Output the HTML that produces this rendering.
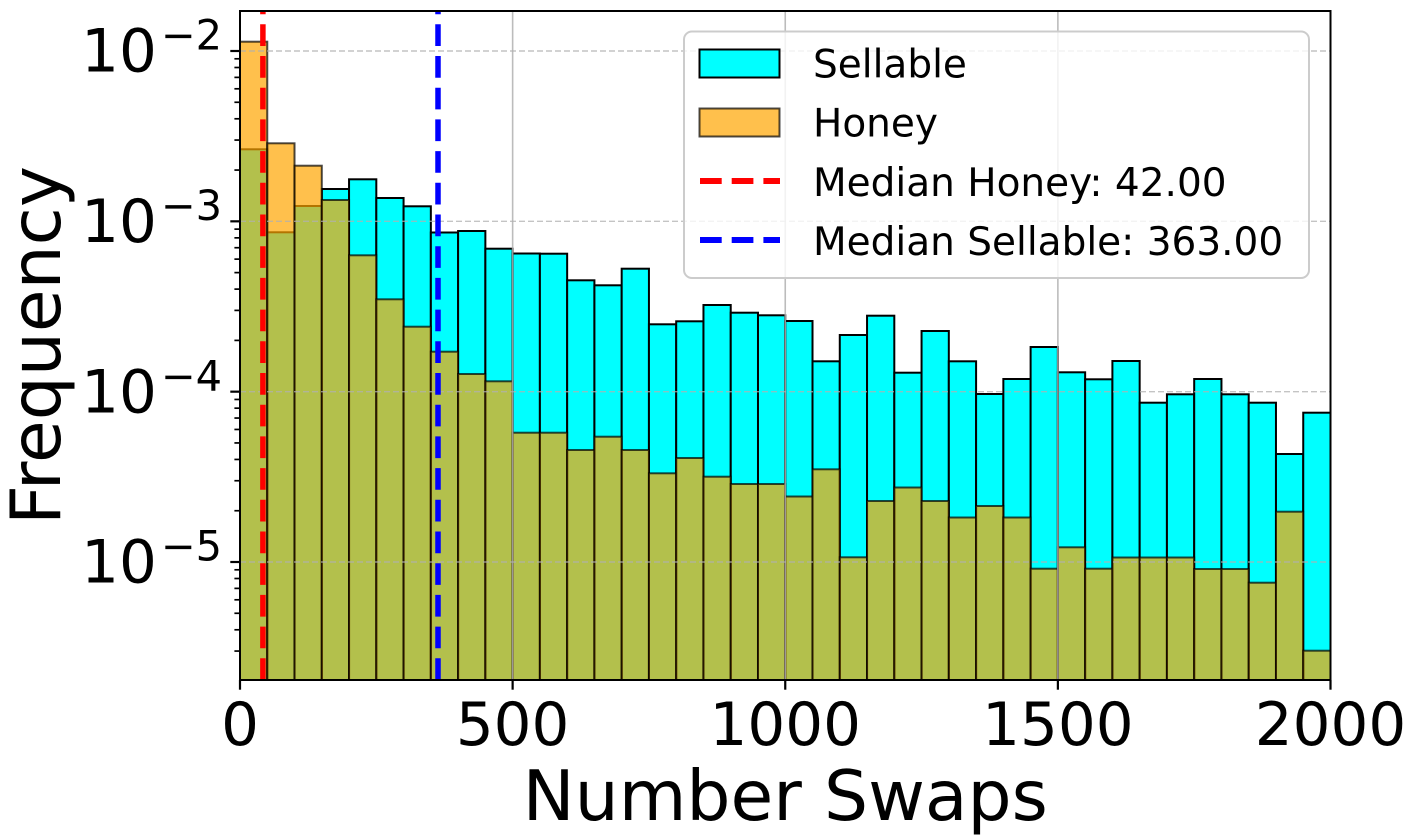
<!DOCTYPE html>
<html>
<head>
<meta charset="utf-8">
<style>
html,body{margin:0;padding:0;background:#fff;}
svg{display:block;}
text{font-family:"DejaVu Sans","Liberation Sans",sans-serif;fill:#000;}
</style>
</head>
<body>
<svg width="1412" height="838" viewBox="0 0 1412 838" xmlns="http://www.w3.org/2000/svg">
<defs>
<clipPath id="plot"><rect x="240" y="11" width="1090.5" height="669"/></clipPath>
</defs>
<rect x="0" y="0" width="1412" height="838" fill="#fff"/>
<g clip-path="url(#plot)">
<g fill="#00ffff" stroke="#000" stroke-width="2">
<rect x="240.00" y="149.3" width="27.26" height="540.7"/>
<rect x="267.26" y="232.3" width="27.26" height="457.7"/>
<rect x="294.53" y="206" width="27.26" height="484"/>
<rect x="321.79" y="189" width="27.26" height="501"/>
<rect x="349.05" y="179.3" width="27.26" height="510.7"/>
<rect x="376.31" y="198" width="27.26" height="492"/>
<rect x="403.58" y="206.3" width="27.26" height="483.7"/>
<rect x="430.84" y="232.5" width="27.26" height="457.5"/>
<rect x="458.10" y="231" width="27.26" height="459"/>
<rect x="485.36" y="248.7" width="27.26" height="441.3"/>
<rect x="512.63" y="253.5" width="27.26" height="436.5"/>
<rect x="539.89" y="253.7" width="27.26" height="436.3"/>
<rect x="567.15" y="280.3" width="27.26" height="409.7"/>
<rect x="594.41" y="285.3" width="27.26" height="404.7"/>
<rect x="621.68" y="268.7" width="27.26" height="421.3"/>
<rect x="648.94" y="324.3" width="27.26" height="365.7"/>
<rect x="676.20" y="321.3" width="27.26" height="368.7"/>
<rect x="703.46" y="305" width="27.26" height="385"/>
<rect x="730.73" y="312.7" width="27.26" height="377.3"/>
<rect x="757.99" y="315.3" width="27.26" height="374.7"/>
<rect x="785.25" y="321" width="27.26" height="369"/>
<rect x="812.51" y="361.3" width="27.26" height="328.7"/>
<rect x="839.78" y="335" width="27.26" height="355"/>
<rect x="867.04" y="315.7" width="27.26" height="374.3"/>
<rect x="894.30" y="372.7" width="27.26" height="317.3"/>
<rect x="921.56" y="331" width="27.26" height="359"/>
<rect x="948.83" y="361.3" width="27.26" height="328.7"/>
<rect x="976.09" y="394" width="27.26" height="296"/>
<rect x="1003.35" y="379" width="27.26" height="311"/>
<rect x="1030.61" y="347" width="27.26" height="343"/>
<rect x="1057.88" y="372.3" width="27.26" height="317.7"/>
<rect x="1085.14" y="379.3" width="27.26" height="310.7"/>
<rect x="1112.40" y="361" width="27.26" height="329"/>
<rect x="1139.66" y="402.7" width="27.26" height="287.3"/>
<rect x="1166.93" y="394.3" width="27.26" height="295.7"/>
<rect x="1194.19" y="379" width="27.26" height="311"/>
<rect x="1221.45" y="394.3" width="27.26" height="295.7"/>
<rect x="1248.71" y="402.7" width="27.26" height="287.3"/>
<rect x="1275.98" y="454" width="27.26" height="236"/>
<rect x="1303.24" y="412.7" width="27.26" height="277.3"/>
</g>
<g fill="#ffa500" fill-opacity="0.7" stroke="#000" stroke-opacity="0.7" stroke-width="2">
<rect x="240.00" y="41.7" width="27.26" height="648.3"/>
<rect x="267.26" y="143.3" width="27.26" height="546.7"/>
<rect x="294.53" y="165.7" width="27.26" height="524.3"/>
<rect x="321.79" y="200" width="27.26" height="490"/>
<rect x="349.05" y="255.3" width="27.26" height="434.7"/>
<rect x="376.31" y="299.3" width="27.26" height="390.7"/>
<rect x="403.58" y="326.7" width="27.26" height="363.3"/>
<rect x="430.84" y="351.7" width="27.26" height="338.3"/>
<rect x="458.10" y="374" width="27.26" height="316"/>
<rect x="485.36" y="381.3" width="27.26" height="308.7"/>
<rect x="512.63" y="432.7" width="27.26" height="257.3"/>
<rect x="539.89" y="432.7" width="27.26" height="257.3"/>
<rect x="567.15" y="450" width="27.26" height="240"/>
<rect x="594.41" y="436.7" width="27.26" height="253.3"/>
<rect x="621.68" y="450" width="27.26" height="240"/>
<rect x="648.94" y="473.3" width="27.26" height="216.7"/>
<rect x="676.20" y="458" width="27.26" height="232"/>
<rect x="703.46" y="476.7" width="27.26" height="213.3"/>
<rect x="730.73" y="484" width="27.26" height="206"/>
<rect x="757.99" y="484" width="27.26" height="206"/>
<rect x="785.25" y="496.5" width="27.26" height="193.5"/>
<rect x="812.51" y="469.3" width="27.26" height="220.7"/>
<rect x="839.78" y="557.3" width="27.26" height="132.7"/>
<rect x="867.04" y="501" width="27.26" height="189"/>
<rect x="894.30" y="487.5" width="27.26" height="202.5"/>
<rect x="921.56" y="501" width="27.26" height="189"/>
<rect x="948.83" y="517.5" width="27.26" height="172.5"/>
<rect x="976.09" y="506" width="27.26" height="184"/>
<rect x="1003.35" y="517.5" width="27.26" height="172.5"/>
<rect x="1030.61" y="568.7" width="27.26" height="121.3"/>
<rect x="1057.88" y="547.3" width="27.26" height="142.7"/>
<rect x="1085.14" y="568.7" width="27.26" height="121.3"/>
<rect x="1112.40" y="557.5" width="27.26" height="132.5"/>
<rect x="1139.66" y="557.5" width="27.26" height="132.5"/>
<rect x="1166.93" y="557.5" width="27.26" height="132.5"/>
<rect x="1194.19" y="569" width="27.26" height="121"/>
<rect x="1221.45" y="569" width="27.26" height="121"/>
<rect x="1248.71" y="582.7" width="27.26" height="107.3"/>
<rect x="1275.98" y="511.7" width="27.26" height="178.3"/>
<rect x="1303.24" y="650.7" width="27.26" height="39.3"/>
</g>
<g stroke="#b0b0b0" stroke-width="1.6" stroke-opacity="0.85">
<line x1="512.63" y1="11" x2="512.63" y2="680"/>
<line x1="785.25" y1="11" x2="785.25" y2="680"/>
<line x1="1057.88" y1="11" x2="1057.88" y2="680"/>
</g>
<g stroke="#b0b0b0" stroke-width="1.4" stroke-opacity="0.75" stroke-dasharray="6 3">
<line x1="240" y1="51" x2="1330.5" y2="51"/>
<line x1="240" y1="221.33" x2="1330.5" y2="221.33"/>
<line x1="240" y1="391.67" x2="1330.5" y2="391.67"/>
<line x1="240" y1="562" x2="1330.5" y2="562"/>
</g>
<line x1="262.9" y1="680" x2="262.9" y2="11" stroke="#ff0000" stroke-width="5.5" stroke-dasharray="21.7 10"/>
<line x1="438" y1="680" x2="438" y2="11" stroke="#0000ff" stroke-width="5.5" stroke-dasharray="21.7 10"/>
</g>
<rect x="240" y="11" width="1090.5" height="669" fill="none" stroke="#000" stroke-width="2"/>
<g stroke="#000" stroke-width="2.2">
<line x1="240" y1="680" x2="240" y2="689.7"/>
<line x1="512.63" y1="680" x2="512.63" y2="689.7"/>
<line x1="785.25" y1="680" x2="785.25" y2="689.7"/>
<line x1="1057.88" y1="680" x2="1057.88" y2="689.7"/>
<line x1="1330.5" y1="680" x2="1330.5" y2="689.7"/>
<line x1="240" y1="51" x2="230.3" y2="51"/>
<line x1="240" y1="221.33" x2="230.3" y2="221.33"/>
<line x1="240" y1="391.67" x2="230.3" y2="391.67"/>
<line x1="240" y1="562" x2="230.3" y2="562"/>
</g>
<g stroke="#000" stroke-width="1.7">
<line x1="240" y1="170.06" x2="234.4" y2="170.06"/>
<line x1="240" y1="140.06" x2="234.4" y2="140.06"/>
<line x1="240" y1="118.78" x2="234.4" y2="118.78"/>
<line x1="240" y1="102.27" x2="234.4" y2="102.27"/>
<line x1="240" y1="88.79" x2="234.4" y2="88.79"/>
<line x1="240" y1="77.38" x2="234.4" y2="77.38"/>
<line x1="240" y1="67.50" x2="234.4" y2="67.50"/>
<line x1="240" y1="58.79" x2="234.4" y2="58.79"/>
<line x1="240" y1="340.40" x2="234.4" y2="340.40"/>
<line x1="240" y1="310.40" x2="234.4" y2="310.40"/>
<line x1="240" y1="289.12" x2="234.4" y2="289.12"/>
<line x1="240" y1="272.61" x2="234.4" y2="272.61"/>
<line x1="240" y1="259.13" x2="234.4" y2="259.13"/>
<line x1="240" y1="247.72" x2="234.4" y2="247.72"/>
<line x1="240" y1="237.84" x2="234.4" y2="237.84"/>
<line x1="240" y1="229.13" x2="234.4" y2="229.13"/>
<line x1="240" y1="510.73" x2="234.4" y2="510.73"/>
<line x1="240" y1="480.73" x2="234.4" y2="480.73"/>
<line x1="240" y1="459.45" x2="234.4" y2="459.45"/>
<line x1="240" y1="442.94" x2="234.4" y2="442.94"/>
<line x1="240" y1="429.46" x2="234.4" y2="429.46"/>
<line x1="240" y1="418.05" x2="234.4" y2="418.05"/>
<line x1="240" y1="408.17" x2="234.4" y2="408.17"/>
<line x1="240" y1="399.46" x2="234.4" y2="399.46"/>
<line x1="240" y1="651.06" x2="234.4" y2="651.06"/>
<line x1="240" y1="629.78" x2="234.4" y2="629.78"/>
<line x1="240" y1="613.27" x2="234.4" y2="613.27"/>
<line x1="240" y1="599.79" x2="234.4" y2="599.79"/>
<line x1="240" y1="588.38" x2="234.4" y2="588.38"/>
<line x1="240" y1="578.50" x2="234.4" y2="578.50"/>
<line x1="240" y1="569.79" x2="234.4" y2="569.79"/>
</g>
<g font-size="59.5" text-anchor="middle">
<text x="240" y="745">0</text>
<text x="512.63" y="745">500</text>
<text x="785.25" y="745">1000</text>
<text x="1057.88" y="745">1500</text>
<text x="1330.5" y="745">2000</text>
</g>
<g font-size="59.5" text-anchor="end">
<text x="222" y="71.6">10<tspan font-size="41.5" dx="4" dy="-22">−2</tspan></text>
<text x="222" y="241.9">10<tspan font-size="41.5" dx="4" dy="-22">−3</tspan></text>
<text x="222" y="412.3">10<tspan font-size="41.5" dx="4" dy="-22">−4</tspan></text>
<text x="222" y="582.6">10<tspan font-size="41.5" dx="4" dy="-22">−5</tspan></text>
</g>
<text x="785.25" y="820" font-size="69.5" text-anchor="middle">Number Swaps</text>
<text transform="translate(60,345.5) rotate(-90)" font-size="69.5" text-anchor="middle">Frequency</text>
<rect x="684" y="31.5" width="625" height="246.5" rx="8" ry="8" fill="#fff" fill-opacity="0.8" stroke="#cccccc" stroke-width="2"/>
<rect x="699.5" y="49.5" width="80" height="28" fill="#00ffff" stroke="#000" stroke-width="2"/>
<rect x="699.5" y="108.5" width="80" height="28" fill="#ffa500" fill-opacity="0.7" stroke="#000" stroke-opacity="0.7" stroke-width="2"/>
<line x1="700" y1="181" x2="780" y2="181" stroke="#ff0000" stroke-width="6" stroke-dasharray="21.7 10"/>
<line x1="700" y1="240" x2="780" y2="240" stroke="#0000ff" stroke-width="6" stroke-dasharray="21.7 10"/>
<g font-size="39">
<text x="813" y="77.5">Sellable</text>
<text x="813" y="136.5">Honey</text>
<text x="813" y="196">Median Honey: 42.00</text>
<text x="813" y="255">Median Sellable: 363.00</text>
</g>
</svg>
</body>
</html>
